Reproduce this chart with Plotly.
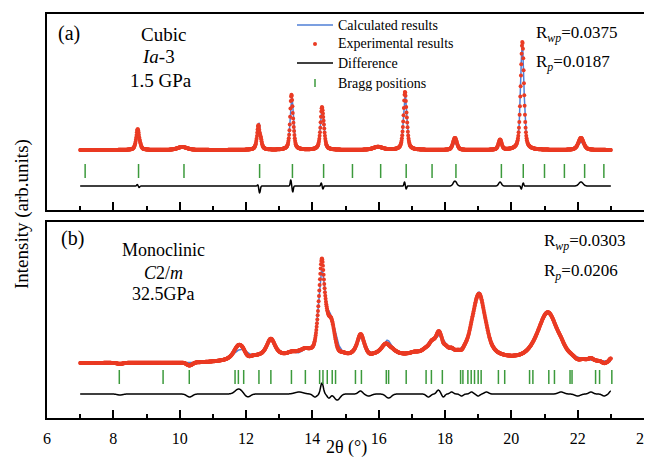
import numpy as np
import plotly.graph_objects as go

# ---------------- data ----------------
# measurement grid (2theta, degrees)
two_theta_start, two_theta_end, two_theta_step = 7.0, 23.0, 0.01

# Panel (a): cubic Ia-3, 1.5 GPa  (heights in arb. units above background)
a_peak_pos    = [8.74, 10.08, 12.39, 13.38, 14.30, 15.98, 16.80, 18.30, 19.66, 20.33, 22.10]
a_peak_height = [20, 3, 27, 54, 43, 3, 56, 7, 6, 108, 8]
a_peak_fwhm   = [0.12, 0.35, 0.12, 0.11, 0.12, 0.35, 0.12, 0.16, 0.13, 0.12, 0.22]
# residual features (experimental - calculated)
a_res_pos   = [8.72, 8.78, 12.36, 12.41, 13.35, 13.41, 14.27, 14.32, 16.78, 16.83, 18.30, 19.66, 20.30, 20.36, 22.10]
a_res_amp   = [1.5, -1.5, 1.5, -7, 6, -6, 3, -3, 4, -3, 5, 4, -3, 3, 4]
a_res_fwhm  = [0.04, 0.04, 0.04, 0.05, 0.04, 0.04, 0.04, 0.04, 0.04, 0.04, 0.12, 0.10, 0.04, 0.04, 0.15]
a_bragg = [7.15, 8.76, 10.13, 12.41, 13.40, 14.34, 15.21, 16.06, 16.83, 17.61, 18.33,
           19.70, 20.36, 21.00, 21.60, 22.21, 22.79]

# Panel (b): monoclinic C2/m, 32.5 GPa
b_peak_pos    = [11.70, 11.90, 12.75, 13.37, 13.79, 14.28, 14.55, 15.46, 16.26, 17.08, 17.55, 17.85, 19.02, 21.10]
b_peak_height = [5, 7, 17, 3, 5, 80, 35, 19, 15, 2, 11, 17, 65, 50]
b_peak_fwhm   = [0.35, 0.35, 0.30, 0.30, 0.30, 0.24, 0.35, 0.30, 0.35, 0.30, 0.35, 0.35, 0.45, 0.75]
b_bg_pos    = [12.8, 16.5, 18.6]
b_bg_height = [6, 6, 4]
b_bg_fwhm   = [2.2, 3.0, 2.0]
b_res_pos  = [8.2, 10.3, 11.78, 12.05, 13.6, 14.08, 14.29, 14.50, 14.75, 15.45, 15.70, 16.30,
              17.50, 17.80, 17.95, 18.20, 18.50, 18.80, 19.00, 19.25, 21.50, 22.00, 22.40, 22.80, 23.00]
b_res_amp  = [-1, -3, 5, -3, 2, -3, 11, -4, -6, 3, -2, -4,
              -3, 4, -3, 2, -2, 2, -2, 2, 2, -2, 2, -2, 3]
b_res_fwhm = [0.2, 0.2, 0.25, 0.2, 0.3, 0.15, 0.1, 0.12, 0.2, 0.15, 0.2, 0.2,
              0.15, 0.12, 0.1, 0.12, 0.12, 0.12, 0.12, 0.15, 0.2, 0.2, 0.15, 0.15, 0.1]
b_bragg = [8.18, 9.50, 10.29, 11.67, 11.77, 11.93, 12.39, 12.75, 13.37, 13.79, 14.22, 14.32,
           14.45, 14.60, 14.70, 15.30, 15.48, 16.23, 16.30, 16.83, 17.43, 17.59, 17.92, 18.47,
           18.54, 18.69, 18.79, 18.89, 19.00, 19.09, 19.61, 19.80, 20.55, 20.65, 21.13, 21.30,
           21.77, 21.83, 22.54, 22.66, 23.03]

# vertical offsets of the stacked curves within each panel
a_offsets = {"pattern": 60, "bragg": 39, "diff": 24}
b_offsets = {"pattern": 55, "bragg": 41, "diff": 24}

x_ticks_major = [6, 8, 10, 12, 14, 16, 18, 20, 22, 24]
x_ticks_minor = [7, 9, 11, 13, 15, 17, 19, 21, 23]

legend_names = ["Calculated results", "Experimental results", "Difference", "Bragg positions"]

# ---------------- profile model ----------------
tt = np.round(np.arange(two_theta_start, two_theta_end + 1e-9, two_theta_step), 3)


def pv(x, pos, height, fwhm, eta):
    y = np.zeros_like(x)
    for p, h, w in zip(pos, height, fwhm):
        u = (x - p) / (w / 2.0)
        y += h * (eta / (1 + u ** 2) + (1 - eta) * np.exp(-np.log(2) * u ** 2))
    return y


a_calc = pv(tt, a_peak_pos, a_peak_height, a_peak_fwhm, 0.5)
a_res = pv(tt, a_res_pos, a_res_amp, a_res_fwhm, 0.0)
a_exp = a_calc + a_res

b_calc = pv(tt, b_peak_pos, b_peak_height, b_peak_fwhm, 0.7) + pv(tt, b_bg_pos, b_bg_height, b_bg_fwhm, 0.0)
b_res = pv(tt, b_res_pos, b_res_amp, b_res_fwhm, 0.0)
b_exp = b_calc + b_res

# ---------------- figure ----------------
# the page body has an 8px margin; the figure is sized to fit inside the window
OFF = 8
W, H = 652 - OFF, 467 - 2 * OFF
PLOT_L, PLOT_R, PLOT_T, PLOT_B = 47, 644, 14, 418          # plot area in page pixels
ML, MR, MT = PLOT_L - OFF, (W + OFF) - PLOT_R, PLOT_T - OFF
MB = (H + OFF) - PLOT_B
PW, PH = PLOT_R - PLOT_L, PLOT_B - PLOT_T


def xp(px):
    return (px - PLOT_L) / PW


def yp(py):
    return (PLOT_B - py) / PH


BLUE = "#4f7fd6"
RED = "#ea3b24"
GREEN = "#3c9a3c"
FONT = "Liberation Serif"

fig = go.Figure()
for i, (calc, exp, res, bragg, off) in enumerate([
        (a_calc, a_exp, a_res, a_bragg, a_offsets),
        (b_calc, b_exp, b_res, b_bragg, b_offsets)]):
    xa = "x" if i == 0 else "x2"
    ya = "y" if i == 0 else "y2"
    fig.add_trace(go.Scatter(x=tt, y=calc + off["pattern"], mode="lines", name=legend_names[0],
                             line=dict(color=BLUE, width=1.5), xaxis=xa, yaxis=ya))
    fig.add_trace(go.Scatter(x=tt, y=exp + off["pattern"], mode="markers", name=legend_names[1],
                             marker=dict(color=RED, size=4), xaxis=xa, yaxis=ya))
    fig.add_trace(go.Scatter(x=tt, y=res + off["diff"], mode="lines", name=legend_names[2],
                             line=dict(color="black", width=1.5, shape="spline"), xaxis=xa, yaxis=ya))
    fig.add_trace(go.Scatter(x=bragg, y=[off["bragg"]] * len(bragg), mode="markers", name=legend_names[3],
                             marker=dict(symbol="line-ns", size=10, line=dict(color=GREEN, width=1.5)),
                             xaxis=xa, yaxis=ya))

axis_common = dict(range=[6, 24], showline=True, linecolor="black", linewidth=2, mirror=True,
                   showgrid=False, zeroline=False, ticks="inside", ticklen=8, tickwidth=1.5,
                   tickcolor="black", tickmode="array", tickvals=x_ticks_major,
                   minor=dict(tickmode="array", tickvals=x_ticks_minor, ticks="inside", ticklen=4,
                              tickwidth=1.5, tickcolor="black"))
yaxis_common = dict(range=[0, 196], showline=True, linecolor="black", linewidth=2, mirror=True,
                    showgrid=False, zeroline=False, showticklabels=False, ticks="")

fig.update_layout(
    width=W, height=H, margin=dict(l=ML, r=MR, t=MT, b=MB, autoexpand=False),
    paper_bgcolor="white", plot_bgcolor="white",
    font=dict(family=FONT, color="black"),
    xaxis=dict(axis_common, anchor="y", showticklabels=False),
    yaxis=dict(yaxis_common, domain=[yp(210), 1.0]),
    xaxis2=dict(axis_common, anchor="y2", showticklabels=True, ticklabelstandoff=5,
                tickfont=dict(size=16, family=FONT)),
    yaxis2=dict(yaxis_common, domain=[0.0, yp(222)]),
    showlegend=False,
)

ann = []
shapes = []


def add_text(text, px, py, size, xanchor="center"):
    ann.append(dict(text=text, x=xp(px), y=yp(py), xref="paper", yref="paper", showarrow=False,
                    xanchor=xanchor, yanchor="middle", font=dict(size=size, family=FONT, color="black")))


# legend (drawn manually to match the reference spacing)
leg_rows = [25, 44, 63, 83]
leg_x0, leg_x1, leg_tx = 297, 333, 336
shapes.append(dict(type="line", xref="paper", yref="paper", x0=xp(leg_x0), x1=xp(leg_x1),
                   y0=yp(leg_rows[0]), y1=yp(leg_rows[0]), line=dict(color=BLUE, width=1.5)))
mid = (leg_x0 + leg_x1) / 2
shapes.append(dict(type="circle", xref="paper", yref="paper", x0=xp(mid - 2), x1=xp(mid + 2),
                   y0=yp(leg_rows[1] + 2), y1=yp(leg_rows[1] - 2), fillcolor=RED, line=dict(width=0)))
shapes.append(dict(type="line", xref="paper", yref="paper", x0=xp(leg_x0), x1=xp(leg_x1),
                   y0=yp(leg_rows[2]), y1=yp(leg_rows[2]), line=dict(color="black", width=1.5)))
shapes.append(dict(type="line", xref="paper", yref="paper", x0=xp(mid), x1=xp(mid),
                   y0=yp(leg_rows[3] + 4), y1=yp(leg_rows[3] - 4), line=dict(color=GREEN, width=1.5)))
for name, ry in zip(legend_names, leg_rows):
    add_text(name, leg_tx, ry, 14, "left")

add_text("(a)", 56, 33, 20, "left")
add_text("Cubic", 163, 34, 19)
add_text("<i>Ia</i>-3", 158, 57, 19)
add_text("1.5 GPa", 161, 80, 19)
add_text("R<sub><i>wp</i></sub>=0.0375", 534, 34, 17, "left")
add_text("R<sub><i>p</i></sub>=0.0187", 534, 63, 17, "left")

add_text("(b)", 59, 238, 20, "left")
add_text("Monoclinic", 163, 250, 18)
add_text("<i>C</i>2/<i>m</i>", 163, 273, 18)
add_text("32.5GPa", 163, 294, 18)
add_text("R<sub><i>wp</i></sub>=0.0303", 542, 242, 17, "left")
add_text("R<sub><i>p</i></sub>=0.0206", 542, 272, 17, "left")

add_text("2θ (°)", 346, 447, 18)
ann.append(dict(text="Intensity (arb.units)", x=xp(22), y=yp(214), xref="paper", yref="paper",
                showarrow=False, textangle=-90, xanchor="center", yanchor="middle",
                font=dict(size=19, family=FONT, color="black")))
fig.update_layout(annotations=ann, shapes=shapes)

fig.write_html("out.html")
